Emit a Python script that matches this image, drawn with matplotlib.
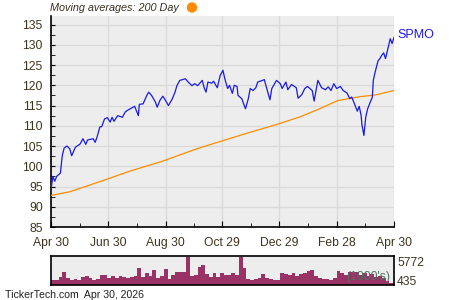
import matplotlib
matplotlib.use("Agg")
import matplotlib.pyplot as plt
import matplotlib.dates as mdates
import numpy as np
import pandas as pd

plt.rcParams['font.family'] = ['Liberation Sans', 'DejaVu Sans']

# ---------------- data ----------------
price_dates = [
    "2025-04-30", "2025-05-02", "2025-05-04", "2025-05-06", "2025-05-10", "2025-05-12",
    "2025-05-14", "2025-05-17", "2025-05-20", "2025-05-22", "2025-05-26", "2025-05-31",
    "2025-06-03", "2025-06-06", "2025-06-08", "2025-06-14", "2025-06-16", "2025-06-18",
    "2025-06-21", "2025-06-23", "2025-06-26", "2025-06-29", "2025-07-02", "2025-07-04",
    "2025-07-06", "2025-07-10", "2025-07-15", "2025-07-18", "2025-07-21", "2025-07-25",
    "2025-07-28", "2025-08-01", "2025-08-02", "2025-08-06", "2025-08-10", "2025-08-12",
    "2025-08-15", "2025-08-19", "2025-08-21", "2025-08-24", "2025-08-27", "2025-08-29",
    "2025-09-02", "2025-09-06", "2025-09-09", "2025-09-11", "2025-09-14", "2025-09-20",
    "2025-09-23", "2025-09-27", "2025-09-30", "2025-10-03", "2025-10-08", "2025-10-10",
    "2025-10-12", "2025-10-14", "2025-10-18", "2025-10-20", "2025-10-24", "2025-10-27",
    "2025-10-30", "2025-11-01", "2025-11-04", "2025-11-06", "2025-11-09", "2025-11-11",
    "2025-11-14", "2025-11-15", "2025-11-19", "2025-11-21", "2025-11-23", "2025-11-26",
    "2025-11-28", "2025-12-01", "2025-12-04", "2025-12-06", "2025-12-11", "2025-12-13",
    "2025-12-16", "2025-12-19", "2025-12-21", "2025-12-26", "2025-12-30", "2026-01-01",
    "2026-01-05", "2026-01-07", "2026-01-11", "2026-01-16", "2026-01-18", "2026-01-22",
    "2026-01-25", "2026-01-28", "2026-02-02", "2026-02-04", "2026-02-08", "2026-02-12",
    "2026-02-16", "2026-02-19", "2026-02-22", "2026-02-25", "2026-02-28", "2026-03-04",
    "2026-03-07", "2026-03-11", "2026-03-14", "2026-03-16", "2026-03-19", "2026-03-22",
    "2026-03-24", "2026-03-26", "2026-03-27", "2026-03-29", "2026-03-31", "2026-04-02",
    "2026-04-04", "2026-04-07", "2026-04-08", "2026-04-10", "2026-04-13", "2026-04-15",
    "2026-04-17", "2026-04-19", "2026-04-21", "2026-04-24", "2026-04-26", "2026-04-28",
    "2026-04-30",
]
price_values = [
    94.2, 97.5, 96.3, 97.5, 98.3, 102.6,
    104.5, 105.0, 104.3, 102.6, 104.7, 105.5,
    106.8, 105.4, 106.5, 106.8, 105.9, 107.2,
    109.7, 109.8, 111.7, 112.0, 110.9, 112.1,
    111.1, 112.5, 112.1, 113.4, 113.9, 114.4,
    114.8, 112.5, 115.3, 115.4, 117.5, 118.3,
    117.5, 115.9, 114.6, 116.3, 117.3, 116.6,
    115.0, 116.6, 118.3, 119.9, 121.2, 121.6,
    120.8, 119.9, 120.4, 119.9, 121.2, 119.4,
    118.3, 120.8, 120.5, 121.0, 119.4, 122.4,
    123.7, 121.6, 119.2, 120.0, 118.0, 120.0,
    119.7, 117.5, 116.7, 115.4, 114.2, 116.7,
    119.2, 118.7, 119.4, 120.8, 121.2, 121.4,
    118.9, 116.4, 119.2, 121.2, 120.4, 119.2,
    120.8, 118.9, 120.2, 119.4, 116.8, 117.7,
    119.2, 119.7, 118.7, 116.1, 121.2, 119.4,
    118.9, 119.6, 118.7, 120.4, 119.2, 119.7,
    118.7, 118.1, 116.7, 117.1, 115.4, 113.6,
    114.8, 112.6, 110.1, 107.6, 112.2, 114.2,
    115.4, 117.1, 121.2, 123.3, 126.0, 126.6,
    127.4, 128.0, 126.6, 129.5, 131.5, 130.3,
    131.8,
]

ma_dates = ["2025-04-30", "2025-05-20", "2025-06-26", "2025-07-23", "2025-08-26",
            "2025-10-02", "2025-10-31", "2025-11-28", "2025-12-26", "2026-01-20",
            "2026-02-10", "2026-03-01", "2026-03-25", "2026-04-10", "2026-04-30"]
ma_values = [92.8, 93.7, 96.6, 98.8, 101.2,
             104.3, 106.4, 108.4, 110.3, 112.2,
             114.2, 116.2, 117.2, 117.6, 118.7]

volume_start = "2025-04-30"   # bars every 4 days
volume_values = [
    1000, 940, 1600, 2700, 1500, 1007, 1141, 1100, 1600, 1800,
    1500, 940, 1200, 2000, 2080, 1400, 1812, 1500, 1946, 1700,
    1409, 1600, 1900, 3600, 1700, 2400, 1800, 3100, 1500, 1800,
    3400, 1200, 2000, 2700, 2600, 2600, 5700, 1946, 2000, 3825,
    4200, 2300, 1700, 2400, 1600, 2400, 2100, 2000, 2500, 2080,
    5772, 3600, 1275, 940, 1200, 1400, 2200, 1350, 1141, 1000,
    940, 2400, 2300, 2000, 2483, 1900, 2300, 2400, 2900, 3100,
    1800, 1500, 1300, 1141, 940, 1500, 2900, 2400, 2000, 2600,
    2600, 2700, 2000, 2400, 1800, 2200, 1600, 1900, 1500, 740,
    435, 435,
]
volume_max_label = "5772"
volume_min_label = "435"

tick_dates = ["2025-04-30", "2025-06-30", "2025-08-30", "2025-10-29",
              "2025-12-29", "2026-02-28", "2026-04-30"]
y_ticks = [85, 90, 95, 100, 105, 110, 115, 120, 125, 130, 135]

# ---------------- drawing ----------------
BG = '#EDEDED'
GRID = '#DADADA'
TXT = '#3E3420'
FS = 8.7

fig = plt.figure(figsize=(4.5, 3.0), dpi=100)
fig.patch.set_facecolor('white')

ax = fig.add_axes([0.1133, 0.2433, 0.7622, 0.7033])
ax.set_facecolor(BG)

pdates = pd.to_datetime(price_dates)
mdt = pd.to_datetime(ma_dates)
ax.plot(mdt, ma_values, color='#FF8C00', lw=0.9, zorder=3)
ax.plot(pdates, price_values, color='#1A1AE6', lw=0.9, zorder=4)

tdates = pd.to_datetime(tick_dates)
ax.set_xlim(tdates[0], tdates[-1])
ax.set_ylim(85, 137.1)
ax.set_xticks(tdates)
ax.set_xticklabels([d.strftime('%b %d') for d in tdates])
tnum = mdates.date2num(tdates)
ax.set_xticks((tnum[:-1] + tnum[1:]) / 2, minor=True)
ax.set_yticks(y_ticks)
ax.set_yticks(np.arange(87.5, 137, 5), minor=True)

ax.grid(True, which='major', color=GRID, lw=1.0, zorder=0)
ax.set_axisbelow(True)
for s in ['top', 'right']:
    ax.spines[s].set_visible(False)
for s in ['left', 'bottom']:
    ax.spines[s].set_color('black')
    ax.spines[s].set_linewidth(1.2)

ax.tick_params(axis='both', which='both', direction='in', color='black',
               labelcolor=TXT, labelsize=FS)
ax.tick_params(axis='x', which='major', length=4, pad=7)
ax.tick_params(axis='x', which='minor', length=3)
ax.tick_params(axis='y', which='major', length=3, pad=6)
ax.tick_params(axis='y', which='minor', length=3)

# title
fig.text(0.111, 0.973, "Moving averages: 200 Day", style='italic',
         fontsize=7.8, color='#3A3020', ha='left', va='center')
fig.patches.append(matplotlib.patches.Ellipse((192 / 450, 1 - 7.5 / 300), 9 / 450, 9 / 300,
                                              transform=fig.transFigure,
                                              color='#FF8C00', zorder=5))
fig.text(397 / 450, 1 - 35 / 300, "SPMO", color='#1A1AE6', fontsize=9.0,
         ha='left', va='center')

# volume axes
vax = fig.add_axes([0.1133, 0.05, 0.7622, 0.0967])
vax.set_facecolor(BG)
vdates = pd.date_range(volume_start, periods=len(volume_values), freq='4D')
vax.bar(vdates, volume_values, width=4, align='edge', color='#993366', lw=0)
vax.set_xlim(tdates[0], tdates[-1])
vax.set_ylim(0, 6000)
vax.set_xticks([])
vax.set_yticks([])
for s in vax.spines.values():
    s.set_color('black')
    s.set_linewidth(1.2)
vax.text(0.86, 0.08, "(1000's)", transform=vax.transAxes, fontsize=FS,
         color='#4E7262', ha='left', va='bottom')
fig.text(397 / 450, 1 - 262.7 / 300, volume_max_label, fontsize=FS, color=TXT,
         ha='left', va='center')
fig.text(397 / 450, 1 - 281.7 / 300, volume_min_label, fontsize=FS, color=TXT,
         ha='left', va='center')

fig.text(5 / 450, 1 - 294.5 / 300, "TickerTech.com  Apr 30, 2026", fontsize=7.6,
         color='#202020', ha='left', va='center')

fig.savefig("out.png", dpi=100)
